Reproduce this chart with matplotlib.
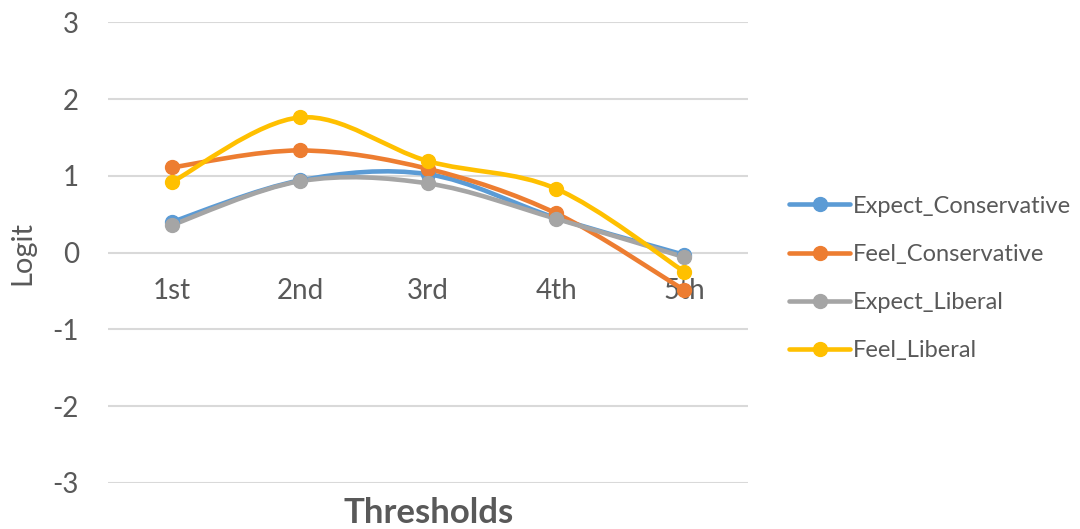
import numpy as np
import matplotlib
matplotlib.use("Agg")
import matplotlib.pyplot as plt
from matplotlib.path import Path
from matplotlib.patches import PathPatch
from matplotlib.lines import Line2D

plt.rcParams["font.family"] = ["Lato", "DejaVu Sans"]
plt.rcParams["axes.unicode_minus"] = False

thresholds = ["1st", "2nd", "3rd", "4th", "5th"]
expect_conservative = [0.40, 0.94, 1.02, 0.45, -0.03]
feel_conservative = [1.11, 1.33, 1.09, 0.51, -0.49]
expect_liberal = [0.36, 0.93, 0.90, 0.44, -0.06]
feel_liberal = [0.92, 1.76, 1.19, 0.83, -0.25]

series = [
    ("Expect_Conservative", expect_conservative, "#5B9BD5"),
    ("Feel_Conservative", feel_conservative, "#ED7D31"),
    ("Expect_Liberal", expect_liberal, "#A5A5A5"),
    ("Feel_Liberal", feel_liberal, "#FFC000"),
]

TEXT = "#595959"
GRID = "#D9D9D9"
LW = 3.3
MS = 10


def smooth_path(x, y):
    # cubic bezier through every point, tangents from neighbours (spreadsheet-style smoothing)
    pts = np.column_stack([x, y]).astype(float)
    n = len(pts)
    verts = [pts[0]]
    codes = [Path.MOVETO]
    for i in range(n - 1):
        p0 = pts[max(i - 1, 0)]
        p1 = pts[i]
        p2 = pts[i + 1]
        p3 = pts[min(i + 2, n - 1)]
        verts += [p1 + (p2 - p0) / 6, p2 - (p3 - p1) / 6, p2]
        codes += [Path.CURVE4] * 3
    return Path(verts, codes)


fig = plt.figure(figsize=(10.8, 5.29), dpi=100)
ax = fig.add_axes([0.1, 0.087, 0.593, 0.871])

x = np.arange(len(thresholds))
for name, vals, color in series:
    ax.add_patch(PathPatch(smooth_path(x, vals), facecolor="none", edgecolor=color,
                           lw=LW, capstyle="round", joinstyle="round", zorder=3))
    ax.plot(x, vals, ls="none", marker="o", ms=MS, color=color, zorder=4)

ax.set_xlim(-0.5, len(thresholds) - 0.5)
ax.set_ylim(-3, 3)
ax.set_yticks(range(-3, 4))
ax.yaxis.grid(True, color=GRID, lw=1.5)
ax.set_axisbelow(True)
for s in ax.spines.values():
    s.set_visible(False)
ax.tick_params(axis="y", length=0, pad=21, labelsize=20, labelcolor=TEXT)
ax.set_xticks([])

# category labels sit just under the zero line
for xi, lab in zip(x, thresholds):
    ax.text(xi, -0.5, lab, ha="center", va="center", fontsize=20, color=TEXT, zorder=2)

ax.set_ylabel("Logit", fontsize=21, color=TEXT)
ax.yaxis.set_label_coords(-0.114, 0.5)
ax.set_xlabel("Thresholds", fontsize=25, fontweight="bold", color=TEXT)
ax.xaxis.set_label_coords(0.5, -0.031)

handles = [Line2D([], [], color=c, lw=LW, marker="o", ms=MS, solid_capstyle="round")
           for _, _, c in series]
ax.legend(handles, [n for n, _, _ in series], loc="center left",
          bbox_to_anchor=(1.03, 0.444), frameon=False, fontsize=17,
          labelcolor=TEXT, handlelength=2.6, handletextpad=0.1, labelspacing=1.15)

fig.savefig("out.png", dpi=100)
